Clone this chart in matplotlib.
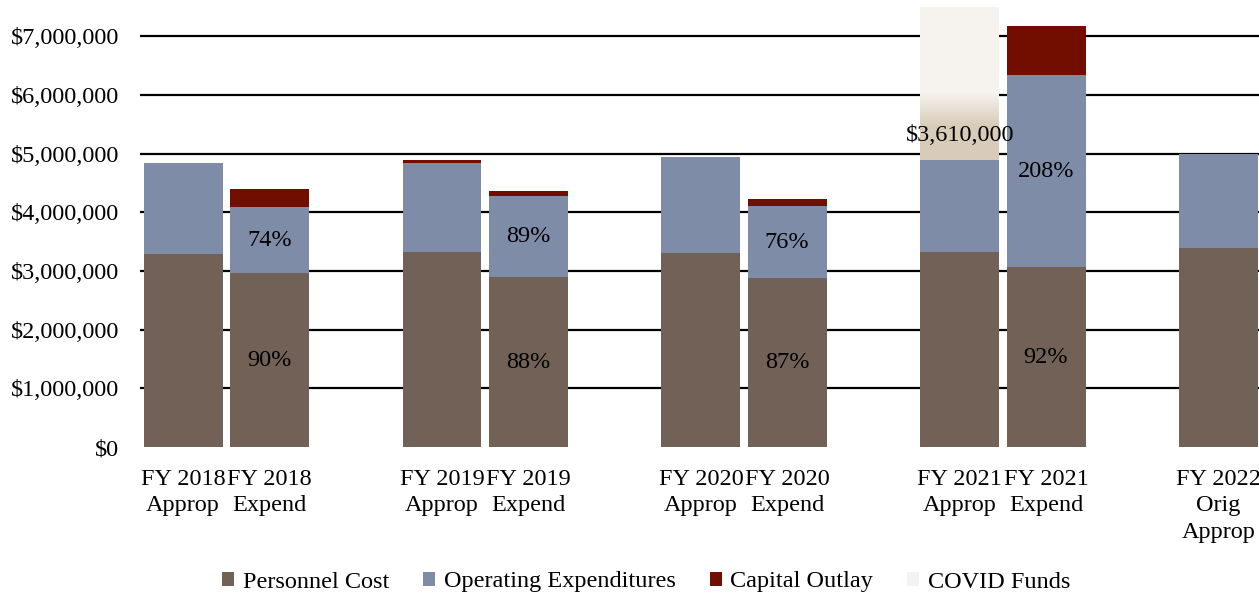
import matplotlib
matplotlib.use('Agg')
import matplotlib.pyplot as plt
import numpy as np
from matplotlib.colors import LinearSegmentedColormap
from matplotlib.ticker import FuncFormatter

# bar labels and slot positions (empty slot between fiscal years)
labels = ['FY 2018\nApprop', 'FY 2018\nExpend',
          'FY 2019\nApprop', 'FY 2019\nExpend',
          'FY 2020\nApprop', 'FY 2020\nExpend',
          'FY 2021\nApprop', 'FY 2021\nExpend',
          'FY 2022\nOrig\nApprop']
slots = [0, 1, 3, 4, 6, 7, 9, 10, 12]

# values in dollars
personnel = [3290000, 2960000, 3320000, 2890000, 3300000, 2875000, 3320000, 3060000, 3400000]
operating = [1545000, 1125000, 1515000, 1380000, 1640000, 1230000, 1570000, 3275000, 1600000]
capital = [0, 310000, 50000, 100000, 0, 120000, 0, 835000, 0]
covid = [0, 0, 0, 0, 0, 0, 3610000, 0, 0]

# percent-of-appropriation labels on the expend bars
expend_idx = [1, 3, 5, 7]
personnel_pct = ['90%', '88%', '87%', '92%']
operating_pct = ['74%', '89%', '76%', '208%']
covid_label = '$3,610,000'

c_pers = '#726157'
c_oper = '#7F8CA8'
c_cap = '#720E00'
c_covid = '#F6F3EF'
c_covid_dark = '#D8CCB9'

plt.rcParams['font.family'] = ['Liberation Serif', 'DejaVu Serif']
plt.rcParams['font.size'] = 17.5

fig = plt.figure(figsize=(12.59, 5.98), dpi=100)
ax = fig.add_axes([0.1112, 0.2525, 0.891, 0.7359])

x = np.array(slots, dtype=float)
w = 0.915
pers = np.array(personnel)
oper = np.array(operating)
cap = np.array(capital)
cov = np.array(covid)

ax.bar(x, pers, w, color=c_pers, label='Personnel Cost', zorder=2)
ax.bar(x, oper, w, bottom=pers, color=c_oper, label='Operating Expenditures', zorder=2)
ax.bar(x, cap, w, bottom=pers + oper, color=c_cap, label='Capital Outlay', zorder=2)
cbars = ax.bar(x, cov, w, bottom=pers + oper + cap, color=c_covid, label='COVID Funds', zorder=2)

# gradient at the base of the covid bar
cmap = LinearSegmentedColormap.from_list('cv', [c_covid_dark, c_covid_dark, c_covid])
for i, p in enumerate(cbars):
    if cov[i] == 0:
        continue
    base = pers[i] + oper[i] + cap[i]
    grad = np.linspace(0, 1, 256).reshape(-1, 1)
    im = ax.imshow(grad, cmap=cmap, origin='lower', aspect='auto',
                   extent=(x[i] - w / 2, x[i] + w / 2, base, base + 1150000), zorder=2.5)
    im.set_clip_path(p)
    ax.annotate(covid_label, (x[i], base), xytext=(0, 18), textcoords='offset points',
                ha='center', va='center', zorder=4)

for k, i in enumerate(expend_idx):
    ax.text(x[i], pers[i] / 2, personnel_pct[k], ha='center', va='center', zorder=4)
    ax.text(x[i], pers[i] + oper[i] / 2, operating_pct[k], ha='center', va='center', zorder=4)

ax.set_xlim(-0.5, 12.5)
ax.set_ylim(0, 7500000)
ax.set_yticks(np.arange(0, 7000001, 1000000))
ax.yaxis.set_major_formatter(FuncFormatter(lambda v, p: '${:,.0f}'.format(v)))
ax.set_xticks(x)
ax.set_xticklabels(labels, linespacing=1.35)
ax.tick_params(axis='both', length=0)
ax.tick_params(axis='y', pad=15)
ax.tick_params(axis='x', pad=15.5)

for v in np.arange(1000000, 7000001, 1000000):
    ax.axhline(v, color='black', lw=1.6, zorder=1)
for s in ax.spines.values():
    s.set_visible(False)

fig.legend(loc='center', bbox_to_anchor=(646 / 1259, 1 - 582 / 598), ncol=4, frameon=False,
           handlelength=0.5, handleheight=0.5, handletextpad=0.35, columnspacing=1.4)

plt.savefig('out.png', dpi=100)
